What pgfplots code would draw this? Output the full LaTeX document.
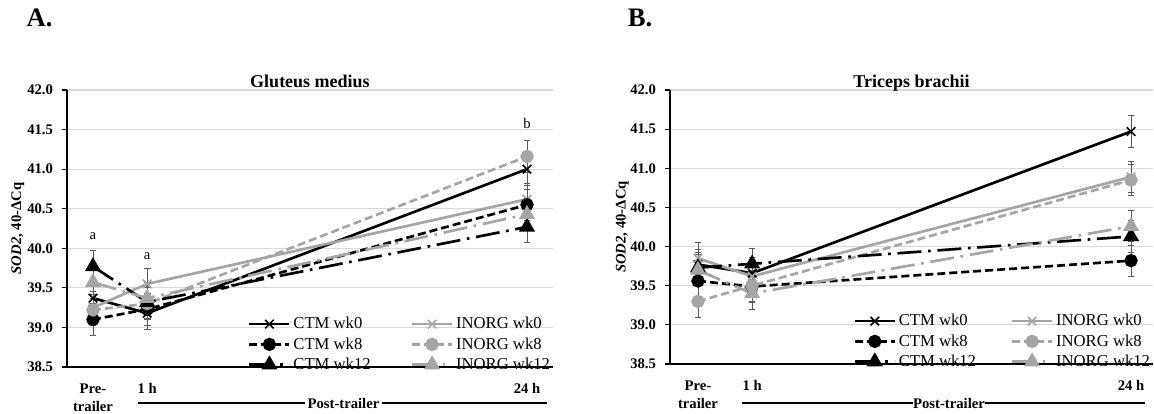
\documentclass[border=0pt]{standalone}
\usepackage{fontspec}
\setmainfont{Liberation Serif}
\usepackage{pgfplots}
\pgfplotsset{compat=1.18}
\definecolor{lgray}{HTML}{A5A5A5}
\definecolor{gridc}{HTML}{D9D9D9}
\definecolor{ebc}{HTML}{595959}
\pgfplotsset{
  eb/.style={error bars/.cd, y dir=both, y fixed=0.2,
     error bar style={solid, line width=0.6pt, ebc},
     error mark options={rotate=90, mark size=2.5pt, line width=0.6pt, solid, ebc}},
  sA/.style={#1, line width=2pt, solid, mark=x, mark size=4.5pt, mark options={solid, line width=1.2pt}},
  sB/.style={#1, line width=2pt, dash pattern=on 6pt off 3pt, mark=*, mark size=4pt, mark options={solid}},
  sC/.style={#1, line width=2pt, dash pattern=on 18pt off 5pt on 2pt off 5pt, mark=triangle*, mark size=5pt, mark options={solid}},
  common/.style={
    scale only axis,
    anchor=south west,
    ymin=38.5, ymax=42,
    ytick={38.5,39,39.5,40,40.5,41,41.5,42},
    yticklabel={\pgfmathprintnumber[fixed,fixed zerofill,precision=1]{\tick}},
    /pgf/number format/assume math mode=true,
    axis x line*=bottom, axis y line*=left,
    axis line style={black, line width=0.9pt, -},
    ymajorgrids, grid style={gridc, line width=0.8pt},
    tick align=outside, major tick length=4pt, tick style={black, line width=0.8pt},
    xtick={0,1,8}, xticklabels={{Pre-\\trailer},{1 h},{24 h}},
    xtick style={draw=none},
    xticklabel style={align=center, font=\bfseries\fontsize{11}{13.5}\selectfont, yshift=-5pt},
    yticklabel style={font=\bfseries\fontsize{11}{12}\selectfont, xshift=-3pt},
    ylabel={\textit{SOD2}, 40-ΔCq},
    ylabel style={font=\bfseries\fontsize{11}{12}\selectfont, anchor=center},
    title style={at={(axis description cs:0.5,1)}, anchor=base, yshift=-4pt, font=\bfseries\fontsize{13.5}{15}\selectfont},
    legend columns=2,
    legend cell align=left,
    legend style={draw=none, fill=none, at={(1,0)}, anchor=south east, inner sep=0pt, yshift=-5.5pt,
       font=\fontsize{12.5}{13}\selectfont, row sep=1pt},
    legend image code/.code={\draw[mark repeat=2,mark phase=2,##1] plot coordinates {(0pt,0pt) (15pt,0pt) (30pt,0pt)};},
  }
}
\begin{document}
\begin{tikzpicture}
\useasboundingbox (0,0) rectangle (865.5pt,310.5pt);
% Panel A
\begin{axis}[common, at={(50.25pt,35.25pt)}, width=364.5pt, height=207.75pt,
  xmin=-0.479, xmax=8.479, title={Gluteus medius},
  legend style={/tikz/every even column/.append style={column sep=28pt}},
  ylabel style={at={(axis description cs:-0.101,0.5)}}]
\addplot[sA=black, eb] coordinates {(0,39.37) (1,39.18) (8,41.00)};
\addlegendentry{CTM wk0}
\addplot[sA=lgray, eb] coordinates {(0,39.25) (1,39.55) (8,40.62)};
\addlegendentry{INORG wk0}
\addplot[sB=black, eb] coordinates {(0,39.10) (1,39.23) (8,40.55)};
\addlegendentry{CTM wk8}
\addplot[sB=lgray, eb] coordinates {(0,39.22) (1,39.30) (8,41.16)};
\addlegendentry{INORG wk8}
\addplot[sC=black, eb] coordinates {(0,39.77) (1,39.32) (8,40.27)};
\addlegendentry{CTM wk12}
\addplot[sC=lgray, eb] coordinates {(0,39.57) (1,39.37) (8,40.43)};
\addlegendentry{INORG wk12}
\node[font=\fontsize{11}{12}\selectfont] at (axis cs:0,40.15) {a};
\node[font=\fontsize{11}{12}\selectfont] at (axis cs:1,39.90) {a};
\node[font=\fontsize{11}{12}\selectfont] at (axis cs:8,41.58) {b};
\end{axis}
% Panel B
\begin{axis}[common, at={(502.5pt,37.5pt)}, width=362.25pt, height=205.5pt,
  xmin=-0.517, xmax=8.406, title={Triceps brachii},
  legend style={/tikz/every even column/.append style={column sep=24pt}},
  ylabel style={at={(axis description cs:-0.099,0.5)}}]
\addplot[sA=black, eb] coordinates {(0,39.77) (1,39.66) (8,41.47)};
\addlegendentry{CTM wk0}
\addplot[sA=lgray, eb] coordinates {(0,39.85) (1,39.62) (8,40.89)};
\addlegendentry{INORG wk0}
\addplot[sB=black, eb] coordinates {(0,39.56) (1,39.49) (8,39.82)};
\addlegendentry{CTM wk8}
\addplot[sB=lgray, eb] coordinates {(0,39.30) (1,39.50) (8,40.85)};
\addlegendentry{INORG wk8}
\addplot[sC=black, eb] coordinates {(0,39.73) (1,39.78) (8,40.13)};
\addlegendentry{CTM wk12}
\addplot[sC=lgray, eb] coordinates {(0,39.70) (1,39.40) (8,40.26)};
\addlegendentry{INORG wk12}
\end{axis}
% panel letters
\node[font=\bfseries\fontsize{20}{22}\selectfont] at (29.6pt,297pt) {A.};
\node[font=\bfseries\fontsize{20}{22}\selectfont] at (480pt,297pt) {B.};
% Post-trailer brackets
\node[font=\bfseries\fontsize{11}{12}\selectfont, inner sep=0pt] at (257.6pt,7.75pt) {Post-trailer};
\draw[line width=1pt] (103.5pt,8.25pt) -- (228.75pt,8.25pt);
\draw[line width=1pt] (286.5pt,8.25pt) -- (410.25pt,8.25pt);
\node[font=\bfseries\fontsize{11}{12}\selectfont, inner sep=0pt] at (711.75pt,7.75pt) {Post-trailer};
\draw[line width=1pt] (556.5pt,8.25pt) -- (684.75pt,8.25pt);
\draw[line width=1pt] (738.75pt,8.25pt) -- (858.75pt,8.25pt);
\end{tikzpicture}
\end{document}
